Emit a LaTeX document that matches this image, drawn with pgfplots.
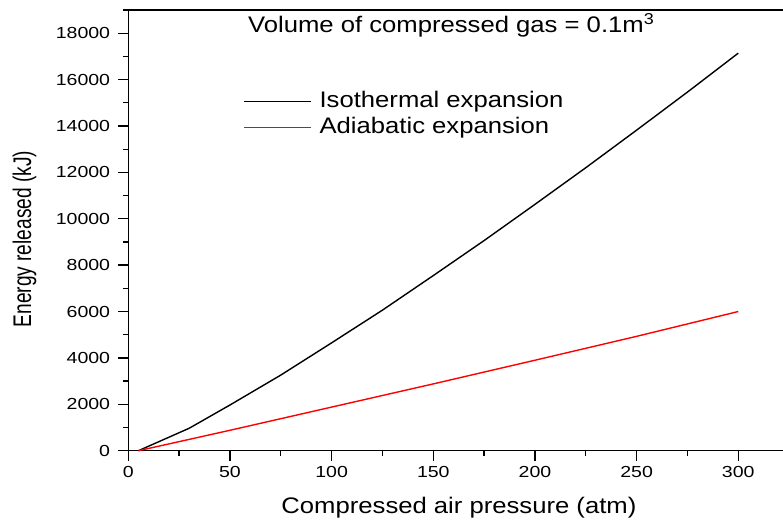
\documentclass[border=0pt]{standalone}
\usepackage{pgfplots}
\pgfplotsset{compat=1.18}
\usepackage{fontspec}
\setmainfont{Liberation Sans}
\newfontfamily\bigfont[FakeStretch=1.14]{Liberation Sans}
\newfontfamily\tickfont[FakeStretch=1.22]{Liberation Sans}
\newfontfamily\yfont[FakeStretch=0.75]{Liberation Sans}
\begin{document}
\begin{tikzpicture}
\begin{axis}[
  at={(0,0)}, anchor=south west,
  scale only axis,
  width=654.7pt, height=440.7pt,
  xmin=0, xmax=322, ymin=0, ymax=19000,
  axis x line*=bottom, axis y line*=left,
  axis line style={line width=1.3pt},
  every tick/.append style={line width=1.3pt, black},
  every minor tick/.append style={line width=1.3pt, black},
  xtick align=outside, ytick align=outside,
  major tick length=10pt, minor tick length=5.5pt,
  xtick={0,50,...,300}, ytick={0,2000,...,18000},
  minor xtick={25,75,...,275}, minor ytick={1000,3000,...,19000},
  scaled ticks=false,
  /pgf/number format/assume math mode=true,
  /pgf/number format/set thousands separator={},
  ticklabel style={font=\tickfont\fontsize{16}{19}\selectfont},
  xticklabel style={anchor=north, inner sep=0pt, yshift=-5pt},
  yticklabel style={anchor=east, inner sep=0pt, xshift=-8pt},
  xlabel={Compressed air pressure (atm)},
  xlabel style={font=\bigfont\fontsize{22.5}{27}\selectfont, at={(axis description cs:0.505,-0.1436)}, anchor=base, inner sep=0pt},
  ylabel={Energy released (kJ)},
  ylabel style={font=\yfont\fontsize{25.5}{30}\selectfont, at={(axis description cs:-0.1486,0.480)}, anchor=base, inner sep=0pt},
  legend style={at={(axis description cs:0.1752,0.8162)}, anchor=north west, draw=none, fill=none, inner sep=0pt,
    font=\bigfont\fontsize{22.5}{27}\selectfont, row sep=5pt,
    nodes={inner sep=0pt, text height=16pt, text depth=5pt}},
  legend cell align=left,
  legend image code/.code={\draw[#1, line width=1.4pt] (0pt,0pt) -- (67pt,0pt);},
  /tikz/every odd column/.append style={column sep=8pt},
  clip=false,
]
\addplot[black, line width=1.4pt] coordinates {
(5,0) (30,970) (50,1970) (75,3260) (100,4650) (125,6060) (150,7550) (175,9060) (200,10620) (225,12200) (250,13820) (275,15460) (300,17140)
};
\addlegendentry{Isothermal expansion}
\addplot[red, line width=1.4pt] coordinates {
(5,0) (50,880) (100,1880) (150,2880) (200,3900) (250,4930) (300,6000)
};
\addlegendentry{Adiabatic expansion}
\draw[line width=1.3pt] (rel axis cs:0,1) -- (rel axis cs:1,1);
\node[anchor=base west, inner sep=0pt, font=\bigfont\fontsize{22.5}{27}\selectfont] at (axis description cs:0.1828,0.950) {Volume of compressed gas = 0.1m\textsuperscript{3}};
\end{axis}
\pgfresetboundingbox
\path (-128.3pt,-70.3pt) rectangle (654.7pt,450.7pt);
\end{tikzpicture}
\end{document}
